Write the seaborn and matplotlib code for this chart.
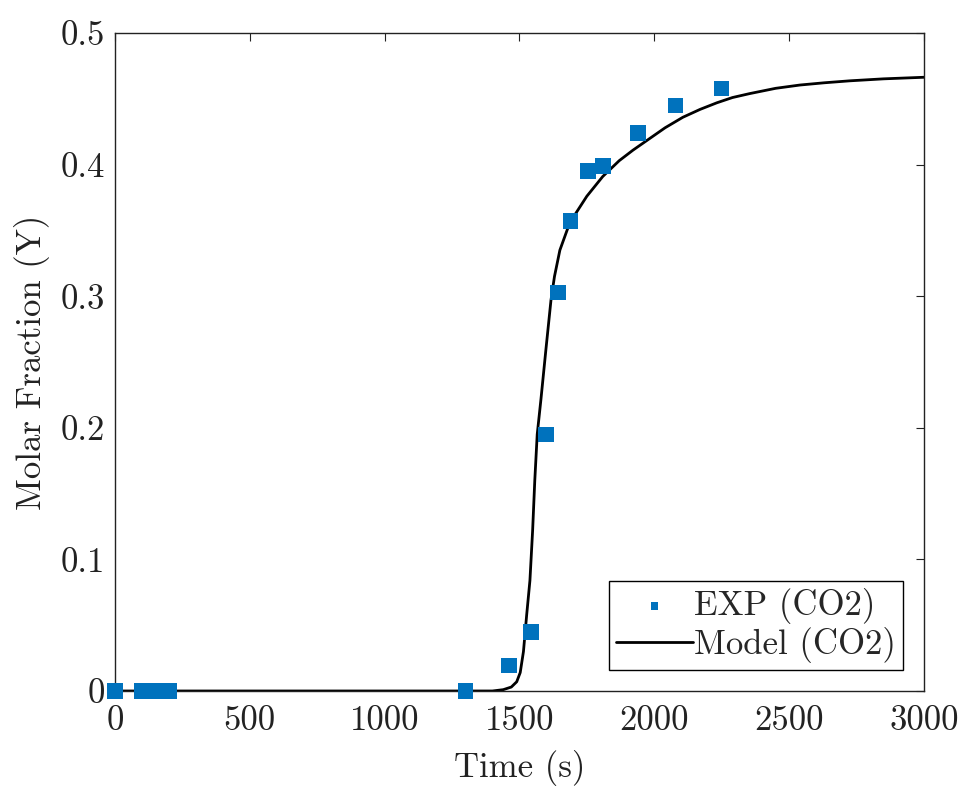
import matplotlib
matplotlib.use("Agg")
import matplotlib.pyplot as plt
import seaborn as sns
import pandas as pd
from matplotlib.ticker import FuncFormatter

# Experimental data (CO2)
exp_time = [0, 100, 125, 150, 175, 200, 1300, 1461, 1543, 1598, 1643, 1689,
            1754, 1809, 1939, 2078, 2250]
exp_y = [0, 0, 0, 0, 0, 0, 0, 0.0195, 0.045, 0.195, 0.303, 0.357,
         0.395, 0.399, 0.424, 0.445, 0.458]

# Model curve (CO2)
model_time = [0, 500, 1000, 1400, 1440, 1470, 1490, 1503, 1515, 1527, 1539,
              1549, 1557, 1566, 1580, 1598, 1617, 1630, 1650, 1687, 1750,
              1809, 1870, 1921, 1984, 2040, 2106, 2170, 2232, 2290, 2354,
              2450, 2540, 2630, 2725, 2850, 3000]
model_y = [0, 0, 0, 0, 0.001, 0.003, 0.007, 0.014, 0.030, 0.058, 0.084,
           0.122, 0.160, 0.195, 0.222, 0.259, 0.297, 0.315, 0.335, 0.356, 0.376,
           0.391, 0.403, 0.411, 0.420, 0.428, 0.436, 0.442, 0.447, 0.451, 0.454,
           0.458, 0.4605, 0.4622, 0.4637, 0.4652, 0.4664]

xticks = [0, 500, 1000, 1500, 2000, 2500, 3000]
yticks = [0, 0.1, 0.2, 0.3, 0.4, 0.5]

sns.set_style("white")
plt.rcParams["font.family"] = ["cmr10", "DejaVu Serif"]
plt.rcParams["axes.unicode_minus"] = False
plt.rcParams["axes.formatter.use_mathtext"] = True

FS = 25
fig = plt.figure(figsize=(9.65, 7.87), dpi=100)
ax = fig.add_axes([0.119, 0.122, 0.8385, 0.836])

exp_df = pd.DataFrame({"t": exp_time, "y": exp_y})
mod_df = pd.DataFrame({"t": model_time, "y": model_y})

sns.lineplot(data=mod_df, x="t", y="y", ax=ax, color="black", linewidth=2.0,
             label="Model (CO2)", sort=False, zorder=2)
sns.scatterplot(data=exp_df, x="t", y="y", ax=ax, marker="s", s=125,
                color="#0072BD", edgecolor="none", label="EXP (CO2)",
                clip_on=False, zorder=3)

ax.set_xlim(0, 3000)
ax.set_ylim(0, 0.5)
ax.set_xticks(xticks)
ax.set_yticks(yticks)
ax.xaxis.set_major_formatter(FuncFormatter(lambda v, p: f"{v:g}"))
ax.yaxis.set_major_formatter(FuncFormatter(lambda v, p: f"{v:g}"))
ax.tick_params(direction="in", length=6, width=0.8, top=True, right=True,
               labelsize=FS, colors="#222222")
ax.tick_params(axis="x", pad=10)
ax.tick_params(axis="y", pad=7)
for sp in ax.spines.values():
    sp.set_visible(True)
    sp.set_color("#222222")
    sp.set_linewidth(1.0)

ax.set_xlabel("Time (s)", fontsize=FS, color="#222222", labelpad=10)
ax.set_ylabel("Molar Fraction (Y)", fontsize=FS, color="#222222", labelpad=8)

handles, labels = ax.get_legend_handles_labels()
order = [labels.index("EXP (CO2)"), labels.index("Model (CO2)")]
leg = ax.legend([handles[i] for i in order], [labels[i] for i in order],
                loc="lower right", fontsize=FS, frameon=True, fancybox=False,
                edgecolor="black", framealpha=1, handlelength=2.2,
                handletextpad=0.05, borderpad=0.2, labelspacing=0.1,
                borderaxespad=0.6, markerscale=0.5)
leg.get_frame().set_linewidth(1.0)

fig.savefig("out.png", dpi=100)
